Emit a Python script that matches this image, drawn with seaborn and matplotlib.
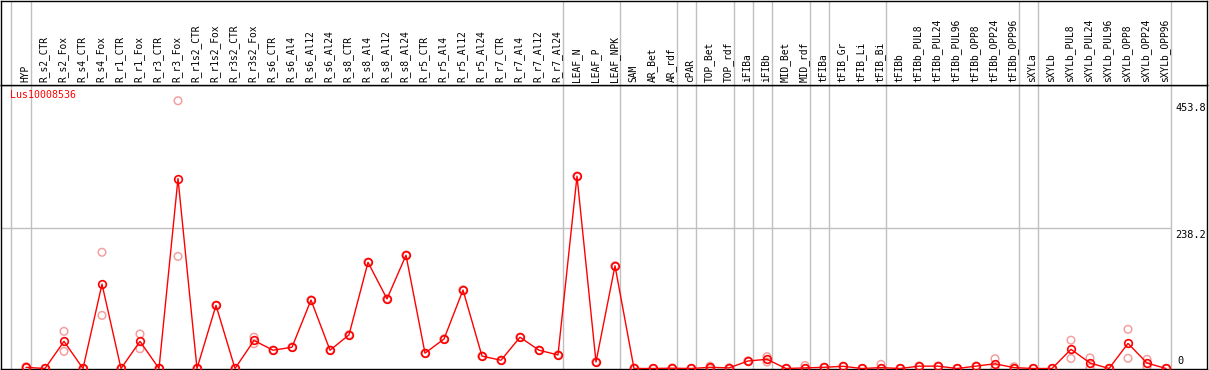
import numpy as np
import matplotlib
matplotlib.use("Agg")
import matplotlib.pyplot as plt
import seaborn as sns

categories = ["HYP", "R_s2_CTR", "R_s2_Fox", "R_s4_CTR", "R_s4_Fox", "R_r1_CTR", "R_r1_Fox",
              "R_r3_CTR", "R_r3_Fox", "R_r1s2_CTR", "R_r1s2_Fox", "R_r3s2_CTR", "R_r3s2_Fox",
              "R_s6_CTR", "R_s6_Al4", "R_s6_Al12", "R_s6_Al24", "R_s8_CTR", "R_s8_Al4",
              "R_s8_Al12", "R_s8_Al24", "R_r5_CTR", "R_r5_Al4", "R_r5_Al12", "R_r5_Al24",
              "R_r7_CTR", "R_r7_Al4", "R_r7_Al12", "R_r7_Al24", "LEAF_N", "LEAF_P", "LEAF_NPK",
              "SAM", "AR_Bet", "AR_rdf", "cPAR", "TOP_Bet", "TOP_rdf", "iFIBa", "iFIBb",
              "MID_Bet", "MID_rdf", "tFIBa", "tFIB_Gr", "tFIB_Li", "tFIB_Bi", "tFIBb",
              "tFIBb_PUL8", "tFIBb_PUL24", "tFIBb_PUL96", "tFIBb_OPP8", "tFIBb_OPP24",
              "tFIBb_OPP96", "sXYLa", "sXYLb", "sXYLb_PUL8", "sXYLb_PUL24", "sXYLb_PUL96",
              "sXYLb_OPP8", "sXYLb_OPP24", "sXYLb_OPP96"]

mean_values = [2, 0, 46, 0, 143, 0, 46, 0, 322, 0, 107, 0, 47.5,
               31, 36, 116, 31, 57, 180, 118, 192, 26, 50, 133, 21, 14, 53, 31, 23,
               326, 11, 174,
               0, 0, 0.5, 0, 2, 1, 12.7, 15.6, 0, 1, 2, 3.7, 0, 1.5, 0,
               4, 4, 0, 4, 8, 1.5, 0, 0, 32.5, 9.3, 0, 42.5, 9.3, 0]

rep_a = [3, 0, 63, 0, 197, 0, 58.5, 0, 453.8, 0, 107, 0, 53,
         31, 36, 116, 31, 57, 180, 118, 192, 26, 50, 133, 21, 14, 53, 31, 23,
         326, 11, 174,
         1, 0, 1, 0, 4, 1, 12.7, 20, 0, 5, 2, 3.7, 0, 7, 0,
         4, 4, 0, 4, 16.6, 3, 0, 0, 48, 18, 0, 66.4, 15.6, 0]

rep_b = [1, 0, 29, 0, 90, 0, 33.5, 0, 190, 0, 107, 0, 42,
         31, 36, 116, 31, 57, 180, 118, 192, 26, 50, 133, 21, 14, 53, 31, 23,
         326, 11, 174,
         0, 0, 0, 0, 0, 1, 12.7, 11, 0, 0, 2, 3.7, 0, 0, 0,
         4, 4, 0, 4, 0, 0, 0, 0, 17, 1, 0, 17.3, 3, 0]

group_ends = [0, 28, 31, 34, 35, 37, 38, 39, 41, 42, 45, 52, 53, 60]
y_marks = [453.8, 238.2, 0]
gene_id = "Lus10008536"

sns.set_style("white")
plt.rcParams['font.family'] = ['DejaVu Sans Mono', 'DejaVu Sans']

W, H = 1209, 370
fig = plt.figure(figsize=(W / 100, H / 100), dpi=100)

left = 0.5 / W
width = 1206 / W
ax = fig.add_axes([left, 1 / H, width, 284 / H])
axh = fig.add_axes([left, 285 / H, width, 84.5 / H], sharex=ax)

n = len(categories)
idx = np.arange(n)
xl = ((0.5 - 26) / 19, (1206.5 - 26) / 19)

# separators
sep_x = [-0.8] + [g + 0.25 for g in group_ends]
for a in (ax, axh):
    for s in sep_x:
        a.axvline(s, color="#c0c0c0", lw=1.0, zorder=0)
ax.hlines(238.2, xl[0], 60.25, color="#c0c0c0", lw=1.0, zorder=0)

# replicates
rx = np.concatenate([idx, idx])
ry = np.array(rep_a + rep_b, dtype=float)
sns.scatterplot(x=rx, y=ry, ax=ax, marker="o", s=30, facecolors="none",
                edgecolor="#f2a0a0", linewidth=1.1, zorder=2, legend=False)

# mean line
sns.lineplot(x=idx, y=mean_values, ax=ax, color="red", lw=1.0, marker="o",
             markersize=5.5, markerfacecolor="none", markeredgecolor="red",
             markeredgewidth=1.2, zorder=3, legend=False)

ax.set_xlim(*xl)
ax.set_ylim(-0.85, 480.5)
axh.set_ylim(0, 1)
for a in (ax, axh):
    a.set_xticks([])
    a.set_yticks([])
    a.set_xlabel("")
    a.set_ylabel("")
    for sp in a.spines.values():
        sp.set_color("black")
        sp.set_linewidth(1.0)
        sp.set_visible(True)

# header labels
for i, c in enumerate(categories):
    axh.text(i - 0.05, 0.03, c, rotation=90, ha="center", va="bottom",
             fontsize=6.9, color="black")

# y labels on the right
xr = (1175 - 26) / 19
for v in y_marks:
    if v == 0:
        ax.text(xr + 0.15, v + 4, "0", ha="left", va="bottom", fontsize=7.4, color="black")
    else:
        ax.text(xr, v - 4, f"{v:.1f}", ha="left", va="top", fontsize=7.4, color="black")

# gene id
ax.text(-1.342 + 9 / 19, 472, gene_id, color="red", fontsize=7.1, ha="left", va="top")

fig.savefig("out.png", dpi=100)
